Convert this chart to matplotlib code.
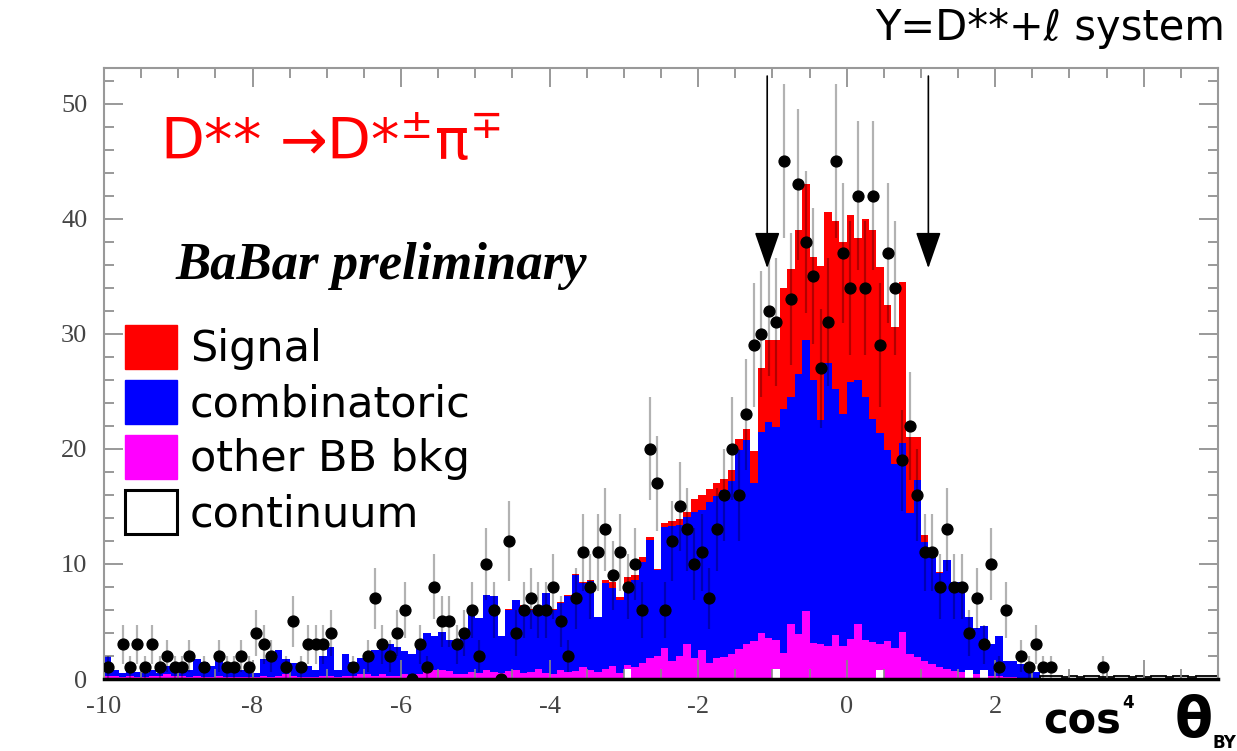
import numpy as np
import matplotlib
matplotlib.use("Agg")
import matplotlib.pyplot as plt
from matplotlib.patches import Patch

# histogram binning (0.1 wide bins)
x_min, x_max, n_bins = -10.0, 5.0, 150

nan = np.nan

# stacked MC components, per bin
signal = [0.0] * 54 + [
    0.1, 0.0, 0.1, 0.1, 0.1, 0.0, 0.1, 0.1, 0.1, 0.1,
    0.1, 0.1, 0.0, 0.3, 0.5, 0.2, 0.6, 0.4, 0.4, 0.2,
    0.1, 0.4, 0.4, 0.5, 0.4, 1.1, 1.3, 1.1, 1.1, 1.0,
    1.0, 1.0, 0.9, 2.8, 5.5, 7.2, 7.6, 10.5, 11.1, 12.5,
    13.5, 10.7, 13.4, 13.1, 14.6, 15.0, 14.5, 12.3, 15.5, 16.4,
    14.4, 12.6, 11.9, 14.0, 6.6, 3.7, 0.6, 0.2, 0.1,
] + [0.0] * 37

combinatoric = [
    1.7, 0.5, 0.3, 0.5, 0.4, 0.3, 0.5, 0.2, 0.7, 0.5,
    0.6, 0.6, 1.4, 1.3, 0.9, 1.4, 0.6, 0.9, 0.6, 0.4,
    0.3, 1.4, 1.8, 2.2, 1.3, 1.1, 0.9, 0.9, 0.6, 1.7,
    2.5, 0.6, 1.9, 1.2, 1.4, 1.5, 2.2, 2.6, 2.7, 2.5,
    2.0, 1.9, 2.7, 3.4, 2.9, 3.3, 2.7, 2.7, 3.3, 5.1,
    4.8, 6.5, 6.6, 3.2, 5.3, 6.1, 5.8, 5.4, 5.0, 7.0,
    5.6, 5.8, 6.6, 8.3, 7.3, 7.7, 4.8, 7.4, 6.8, 6.4,
    7.1, 7.6, 8.8, 10.3, 7.5, 10.5, 11.7, 11.4, 11.1, 12.7,
    12.2, 14.0, 14.1, 14.5, 15.0, 17.3, 17.8, 13.7, 17.5, 18.7,
    18.5, 21.2, 19.7, 22.6, 23.6, 22.9, 19.5, 24.6, 21.4, 20.1,
    22.3, 21.2, 21.1, 19.4, 18.4, 16.6, 16.0, 16.4, 12.2, 15.4,
    10.3, 9.7, 8.2, 9.4, 7.7, 7.8, 4.6, 4.0, 3.8, 2.7,
    3.4, 1.4, 1.4, 1.2, 1.2, 0.5,
] + [0.0] * 24

other_bb = [
    0.3, 0.3, 0.2, 0.3, 0.2, 0.2, 0.3, 0.3, 0.4, 0.3,
    0.3, 0.2, 0.3, 0.2, 0.2, 0.3, 0.2, 0.2, 0.2, 0.2,
    0.2, 0.3, 0.2, 0.3, 0.4, 0.3, 0.2, 0.2, 0.2, 0.3,
    0.3, 0.2, 0.3, 0.3, 0.4, 0.4, 0.3, 0.4, 0.3, 0.3,
    0.4, 0.3, 0.4, 0.6, 0.8, 0.8, 0.7, 0.4, 0.4, 0.6,
    0.5, 0.8, 0.6, 0.5, 0.7, 0.8, 0.5, 0.6, 0.9, 0.5,
    0.4, 0.8, 0.6, 0.7, 1.0, 0.8, 0.6, 0.9, 1.1, 0.5,
    0.3, 1.0, 1.4, 1.8, 2.0, 2.7, 1.6, 2.0, 3.0, 1.8,
    2.5, 1.4, 1.8, 1.9, 2.2, 2.6, 3.0, 3.3, 4.0, 3.6,
    2.5, 2.3, 4.8, 3.9, 5.9, 3.1, 3.0, 2.9, 3.8, 2.9,
    3.5, 4.8, 3.4, 3.2, 2.2, 3.3, 2.7, 4.1, 2.2, 1.9,
    1.6, 1.3, 1.0, 0.9, 0.7, 0.6, 0.0, 0.4, 0.0, 0.3,
    0.3, 0.2, 0.2, 0.1, 0.1, 0.1,
] + [0.0] * 24

continuum = ([0.0] * 70 + [0.9] + [0.0] * 19 + [0.9] + [0.0] * 13 + [0.8]
             + [0.0] * 11 + [0.8, 0.0, 0.8] + [0.0] * 7
             + [0.3, 0.3, 0.3, 0.2, 0.3, 0.2, 0.3, 0.3, 0.2, 0.2, 0.3, 0.3,
                0.2, 0.3, 0.2, 0.3, 0.3, 0.2, 0.3, 0.3, 0.2, 0.3, 0.3, 0.3])

# data counts per bin (nan = empty bin, not drawn)
data = [
    1, nan, 3, 1, 3, 1, 3, 1, 2, 1,
    1, 2, nan, 1, nan, 2, 1, 1, 2, 1,
    4, 3, 2, nan, 1, 5, 1, 3, 3, 3,
    4, nan, nan, 1, nan, 2, 7, 3, 2, 4,
    6, 0, 3, 1, 8, 5, 5, 3, 4, 6,
    2, 10, 6, 0, 12, 4, 6, 7, 6, 6,
    8, 5, 2, 7, 11, 8, 11, 13, 9, 11,
    8, 10, 6, 20, 17, 6, 12, 15, 13, 10,
    11, 7, 13, 16, 20, 16, 23, 29, 30, 32,
    31, 45, 33, 43, 38, 35, 27, 31, 45, 37,
    34, 42, 34, 42, 29, 37, 34, 19, 22, 16,
    11, 11, 8, 13, 8, 8, 4, 7, 3, 10,
    1, 6, nan, 2, 1, 3, 1, 1, nan, nan,
    nan, nan, nan, nan, 1, nan, nan, nan, nan, nan,
    nan, nan, nan, nan, nan, nan, nan, nan, nan, nan,
]

# cut positions marked by the arrows
cut_low, cut_high = -1.07, 1.10

legend_labels = ["Signal", "combinatoric", "other BB bkg", "continuum"]

W, H = 1237, 751
fig = plt.figure(figsize=(W / 100, H / 100), dpi=100)
ax = fig.add_axes([104 / W, 1 - 679 / H, (1218 - 104) / W, (679 - 68) / H])

edges = np.linspace(x_min, x_max, n_bins + 1)
centers = 0.5 * (edges[:-1] + edges[1:])

lvl_cont = np.array(continuum)
lvl_bb = lvl_cont + np.array(other_bb)
lvl_comb = lvl_bb + np.array(combinatoric)
lvl_all = lvl_comb + np.array(signal)

ax.stairs(lvl_all, edges, fill=True, color="#ff0000", lw=0)
ax.stairs(lvl_comb, edges, fill=True, color="#0000ff", lw=0)
ax.stairs(lvl_bb, edges, fill=True, color="#ff00ff", lw=0)
ax.stairs(lvl_cont, edges, fill=True, color="white", lw=0)
# black outline is only visible on the empty tail
tail = 126
ax.stairs(lvl_cont[tail:], edges[tail:], color="black", lw=1.3)

d = np.array(data, dtype=float)
m = ~np.isnan(d)
ax.errorbar(centers[m], d[m], yerr=np.sqrt(d[m]), fmt="o", ms=7.8,
            color="black", ecolor=(0, 0, 0, 0.3), elinewidth=1.6,
            capsize=0, zorder=5)

for xc in (cut_low, cut_high):
    ax.annotate("", xy=(xc, 35.7), xytext=(xc, 52.4),
                arrowprops=dict(arrowstyle="-|>,head_length=2.3,head_width=0.8",
                                color="black", lw=1.2, shrinkA=0, shrinkB=0,
                                mutation_scale=10), zorder=6)

ax.set_xlim(x_min, x_max)
ax.set_ylim(0, 53.1)

ax.set_xticks(range(-10, 5, 2))
ax.set_xticklabels([str(v) for v in range(-10, 3, 2)] + [""])
ax.set_xticks(np.arange(-10, 5.01, 0.5), minor=True)
ax.set_yticks(range(0, 51, 10))
ax.set_yticks(range(0, 53, 2), minor=True)
ax.tick_params(which="both", direction="in", top=True, right=True,
               color="#888888", width=1.2)
ax.tick_params(which="major", length=14)
ax.tick_params(which="minor", length=7)
ax.tick_params(axis="x", pad=12)
ax.tick_params(axis="y", pad=12)
for lab in ax.get_xticklabels() + ax.get_yticklabels():
    lab.set_fontfamily("Liberation Serif")
    lab.set_fontsize(19)
    lab.set_color("#444444")
for s in ("top", "left", "right"):
    ax.spines[s].set_color("#999999")
    ax.spines[s].set_linewidth(1.5)
ax.spines["bottom"].set_color("black")
ax.spines["bottom"].set_linewidth(2.5)

handles = [Patch(facecolor="#ff0000", edgecolor="#ff0000"),
           Patch(facecolor="#0000ff", edgecolor="#0000ff"),
           Patch(facecolor="#ff00ff", edgecolor="#ff00ff"),
           Patch(facecolor="white", edgecolor="black", linewidth=2.2)]
ax.legend(handles, legend_labels, loc="upper left",
          bbox_to_anchor=(0.019, 0.580), frameon=False, fontsize=31,
          handlelength=1.2, handleheight=1.2, handletextpad=0.3,
          labelspacing=0.22, borderpad=0, borderaxespad=0)

plt.rcParams["mathtext.fontset"] = "dejavusans"
fig.text(160 / W, 1 - 160 / H, "D** \u2192D*$^{\\pm}$\u03c0$^{\\mp}$",
         color="#ff0000", fontsize=41, ha="left", va="baseline")
fig.text(175 / W, 1 - 279 / H, "BaBar preliminary", fontfamily="Liberation Serif",
         fontweight="bold", fontstyle="italic", fontsize=38, ha="left", va="baseline")
fig.text(1225 / W, 1 - 40 / H, "Y=D**+\u2113 system", fontsize=30,
         ha="right", va="baseline")

# x axis title, built from pieces: cos^4 theta_BY
fig.text(1043 / W, 1 - 733 / H, "cos", fontsize=30, fontweight="bold",
         ha="left", va="baseline")
fig.text(1122 / W, 1 - 708 / H, "4", fontsize=12, fontweight="bold",
         ha="left", va="baseline")
fig.text(1175 / W, 1 - 737 / H, "\u03b8", fontsize=40, fontweight="bold",
         ha="left", va="baseline")
fig.text(1213 / W, 1 - 734 / H, "BY", fontsize=12, fontweight="bold",
         ha="left", va="top")

fig.savefig("out.png", dpi=100, facecolor="white")
